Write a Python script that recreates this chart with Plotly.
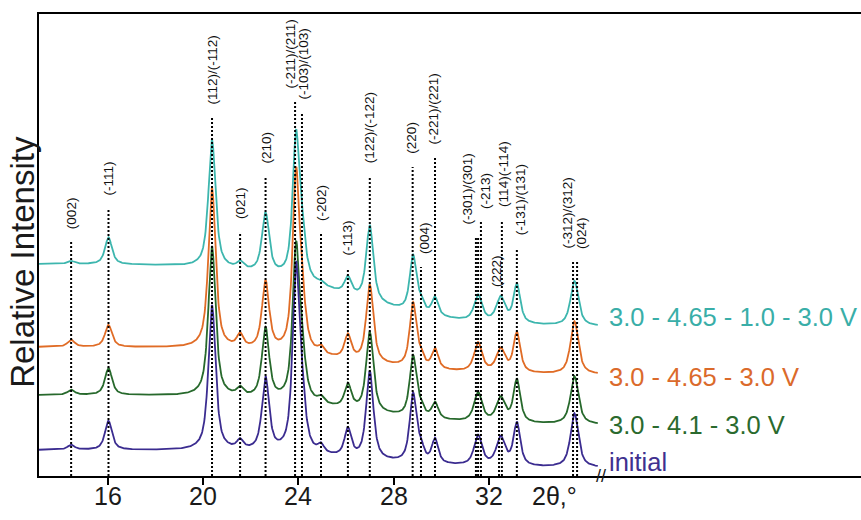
import numpy as np
import plotly.graph_objects as go

# ---------------- data ----------------
# reflection positions (2theta, deg) used to build each diffraction profile
peak_pos = [14.45, 16.02, 20.37, 21.55, 22.62, 23.90, 24.15, 24.95, 26.08,
            27.00, 28.82, 29.15, 29.74, 31.55, 32.50, 33.18, 35.60]
peak_fwhm = [0.35, 0.35, 0.36, 0.32, 0.36, 0.34, 0.36, 0.30, 0.34,
             0.36, 0.34, 0.30, 0.32, 0.40, 0.44, 0.34, 0.40]

# peak intensities above background (a.u.) for each sample
h_cycle_1v = [3, 27, 128, 7, 60, 138, 38, 3, 17, 76, 56, 9, 18, 26, 25, 39, 45]
h_cycle_465 = [7, 22, 160, 13, 68, 172, 43, 7, 24, 78, 64, 9, 20, 29, 23, 40, 53]
h_cycle_41 = [5, 27, 150, 8, 70, 148, 38, 6, 24, 80, 61, 8, 16, 29, 24, 43, 48]
h_initial = [5, 29, 145, 9, 73, 178, 43, 8, 28, 88, 68, 13, 24, 30, 28, 43, 54]

# background: level at high angle and extra level at low angle (a.u.)
bg_low = [149, 101, 51, 8]
bg_drop = [63, 28, 30, 18]

series_names = ["3.0 - 4.65 - 1.0 - 3.0 V", "3.0 - 4.65 - 3.0 V",
                "3.0 - 4.1 - 3.0 V", "initial"]

# indexed reflections: label, position, height of marker line
hkl_labels = ["(002)", "(-111)", "(112)/(-112)", "(021)", "(210)",
              "(-211)/(211)", "(-103)/(103)", "(-202)", "(-113)",
              "(122)/(-122)", "(220)", "(004)", "(-221)/(221)",
              "(-301)/(301)", "(-301)/(301)", "(-213)", "(222)",
              "(114)(-114)", "(-131)/(131)", "(-312)/(312)", "(024)"]
hkl_pos = [14.45, 16.02, 20.37, 21.55, 22.62, 23.86, 24.15, 24.95, 26.08,
           27.00, 28.80, 29.15, 29.74, 31.46, 31.55, 31.67, 32.43,
           32.55, 33.18, 35.54, 35.71]
hkl_top = [234, 268, 358, 244, 299, 374, 364, 242, 208,
           300, 309, 209, 318, 239, 239, 254, 176,
           256, 228, 214, 214]

x_ticks = [16, 20, 24, 28, 32]

# ---------------- styling ----------------
line_colors = ["#3db6ae", "#e06c26", "#27692c", "#3b2c90"]
text_colors = ["#39aea8", "#db6a2b", "#2a6a2e", "#40308f"]
FONT = "Liberation Sans, Arial, sans-serif"

# label offsets (px) for neighbouring reflections; None = no label drawn
label_dx = [0, 0, 0, 0, 0, -5, 2, 0, 0, 0, -2, 3, -2, -8, None, 4, -3,
            1, 4, -6, 4]


def pseudo_voigt(t, c, h, w, eta=0.75):
    g = w / 2.0
    z = ((t - c) / g) ** 2
    return h * (eta / (1.0 + z) + (1.0 - eta) * np.exp(-np.log(2) * z))


tt = np.arange(13.1, 36.6, 0.02)


def profile(heights, low, drop):
    y = low + drop / (1.0 + np.exp((tt - 26.0) / 2.2))
    for c, h, w in zip(peak_pos, heights, peak_fwhm):
        y = y + pseudo_voigt(tt, c, h, w)
    return y


fig = go.Figure()
all_heights = [h_cycle_1v, h_cycle_465, h_cycle_41, h_initial]
for k in range(4):
    fig.add_trace(go.Scatter(
        x=tt, y=profile(all_heights[k], bg_low[k], bg_drop[k]),
        mode="lines", line=dict(color=line_colors[k], width=1.8),
        name=series_names[k], showlegend=False, hoverinfo="skip"))

# dotted reflection markers
lx, ly = [], []
for p, top in zip(hkl_pos, hkl_top):
    lx += [p, p, None]
    ly += [0, top, None]
fig.add_trace(go.Scatter(x=lx, y=ly, mode="lines",
                         line=dict(color="black", width=2, dash="2px,2px"),
                         showlegend=False, hoverinfo="skip"))

ann = []
for lab, p, top, dx in zip(hkl_labels, hkl_pos, hkl_top, label_dx):
    if dx is None:
        continue
    ann.append(dict(x=p, y=top, xref="x", yref="y", text=lab, showarrow=False,
                    textangle=-90, xanchor="center", yanchor="bottom",
                    xshift=dx, yshift=11,
                    font=dict(family=FONT, size=13.5, color="#111")))

# sample names at the right end of each pattern
name_y = [159, 99, 51, 14]
for k in range(4):
    ann.append(dict(x=36.97, y=name_y[k], xref="x", yref="y",
                    text=series_names[k], showarrow=False,
                    xanchor="left", yanchor="middle",
                    font=dict(family=FONT, size=25.5, color=text_colors[k])))

# tick labels sit close under the axis
for v in x_ticks:
    ann.append(dict(x=v, y=-0.044, xref="x", yref="paper", text=str(v),
                    showarrow=False, xanchor="center", yanchor="middle",
                    font=dict(family=FONT, size=25, color="#1a1a1a")))
ann.append(dict(x=34.78, y=-0.044, xref="x", yref="paper", text="2θ,°",
                showarrow=False, xanchor="center", yanchor="middle",
                font=dict(family=FONT, size=25, color="#1a1a1a")))
ann.append(dict(x=36.72, y=0, xref="x", yref="paper", text="//",
                showarrow=False, xanchor="center", yanchor="middle",
                font=dict(family=FONT, size=18, color="#1a1a1a")))
ann.append(dict(x=-0.021, y=0.463, xref="paper", yref="paper",
                text="Relative Intensity", showarrow=False, textangle=-90,
                xanchor="center", yanchor="middle",
                font=dict(family=FONT, size=33, color="#1a1a1a")))

fig.update_layout(
    width=861, height=520,
    margin=dict(l=39, r=0, t=14, b=44),
    paper_bgcolor="white", plot_bgcolor="white",
    annotations=ann,
    xaxis=dict(range=[13.1, 47.64], tickvals=x_ticks, showticklabels=False,
               ticks="outside", ticklen=7, tickwidth=2, tickcolor="black",
               showline=True, linewidth=2, linecolor="black", mirror=True,
               showgrid=False, zeroline=False),
    yaxis=dict(range=[0, 462], showline=True, linewidth=2, linecolor="black",
               showticklabels=False, ticks="", showgrid=False, zeroline=False),
)

fig.write_html("out.html")
